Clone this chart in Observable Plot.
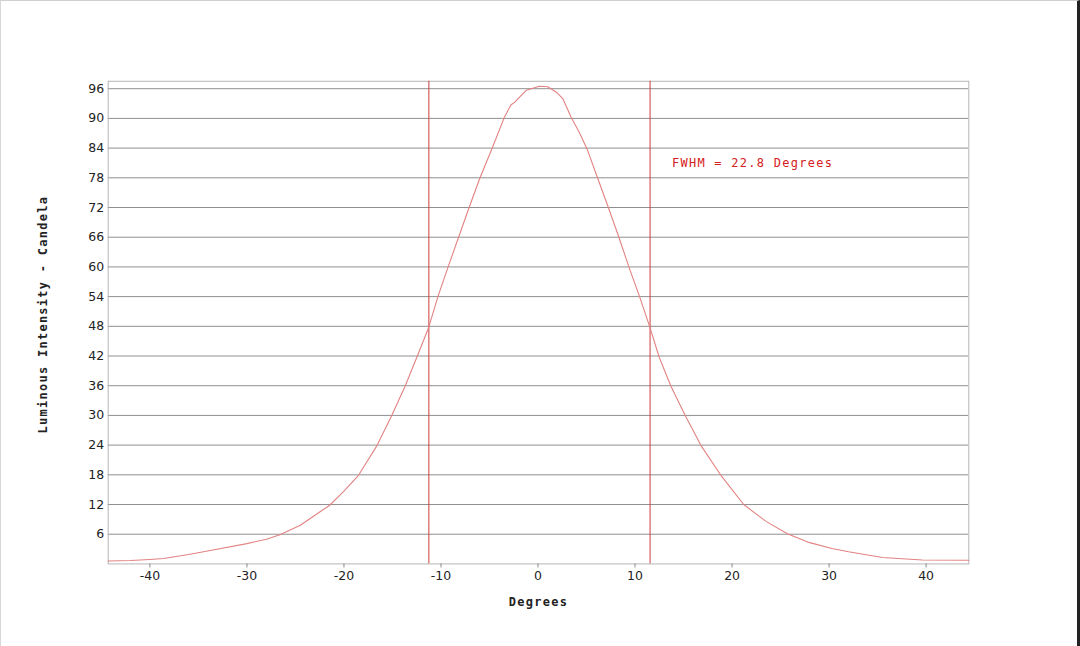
<!DOCTYPE html>
<html>
<head>
<meta charset="utf-8">
<script src="https://cdn.jsdelivr.net/npm/d3@7"></script>
<script src="https://cdn.jsdelivr.net/npm/@observablehq/plot@0.6"></script>
<style>
  html, body { margin: 0; padding: 0; background: #fff; }
  #wrap { position: relative; width: 1080px; height: 646px; box-sizing: border-box;
          border-top: 1px solid #cfcfcf; border-left: 1px solid #d8d8d8; border-right: 3px solid #222; overflow: hidden; }
  #chart { position: absolute; left: -1px; top: -1px; }
</style>
</head>
<body>
<div id="wrap"><div id="chart"></div></div>
<script>
// Measured luminous intensity curve (degrees vs candela)
const degrees = [-44.3, -42, -40, -38.6, -36, -33.5, -30, -28, -26.6, -24.5, -22.5, -21.5, -20.1, -18.5, -16.6, -15.1, -13.7, -12.5, -11.3, -10.3, -9.3, -8.15, -7.1, -6.0, -4.8, -3.45, -2.8, -2.4, -1.2, 0.15, 1.0, 1.9, 2.55, 3.4, 4.3, 5.1, 6.15, 7.25, 8.3, 9.4, 10.45, 11.5, 12.5, 13.7, 15.2, 16.8, 18.85, 21.2, 23.5, 25.7, 28, 30.3, 32, 35.5, 39.6, 44.4];
const candela = [0.6, 0.7, 0.9, 1.1, 1.9, 2.8, 4.1, 5.0, 5.9, 7.8, 10.5, 11.8, 14.5, 17.9, 23.9, 29.9, 35.9, 41.7, 47.6, 54.1, 59.8, 66.2, 72.0, 77.9, 83.6, 90.3, 92.7, 93.3, 95.7, 96.5, 96.4, 95.3, 94.0, 90.3, 87.0, 83.6, 77.9, 72.0, 66.2, 59.8, 54.1, 48.0, 41.7, 35.9, 29.9, 23.9, 17.9, 12.0, 8.6, 6.1, 4.3, 3.1, 2.45, 1.3, 0.8, 0.75];
const fwhmLines = [-11.25, 11.55];
const xTicks = [-40, -30, -20, -10, 0, 10, 20, 30, 40];
const yTicks = [6, 12, 18, 24, 30, 36, 42, 48, 54, 60, 66, 72, 78, 84, 90, 96];
const annotation = [{x: 13.8, y: 81, label: "FWHM = 22.8 Degrees"}];
const xLabel = "Degrees";
const yLabel = "Luminous Intensity - Candela";

const data = degrees.map((d, i) => ({deg: d, cd: candela[i]}));

const chart = Plot.plot({
  width: 1080,
  height: 646,
  marginLeft: 108,
  marginRight: 109,
  marginTop: 81,
  marginBottom: 81,
  style: {fontFamily: "DejaVu Sans", fontSize: "12px", color: "#222", background: "transparent"},
  x: {domain: [-44.3, 44.4]},
  y: {domain: [0, 97.5]},
  marks: [
    Plot.gridY(yTicks, {stroke: "#8f8f8f", strokeOpacity: 1}),
    Plot.frame({stroke: "#b5b5b5"}),
    Plot.axisX(xTicks, {tickSize: 4, tickPadding: 3, stroke: "#888", fill: "#222", fontSize: 12.5,
      tickFormat: d => String(d), label: null}),
    Plot.axisY(yTicks, {tickSize: 0, tickPadding: 4, fill: "#222", fontSize: 12.5,
      tickFormat: d => String(d), label: null}),
    Plot.text([xLabel], {frameAnchor: "bottom", dy: 42, text: d => d, fontFamily: "DejaVu Sans Mono",
      fontSize: 12, fill: "#222", fontWeight: "bold"}),
    Plot.text([yLabel], {frameAnchor: "left", dx: -65, dy: -8, rotate: -90, textAnchor: "middle", text: d => d,
      fontFamily: "DejaVu Sans Mono", fontSize: 12, fill: "#222", fontWeight: "bold"}),
    Plot.ruleX(fwhmLines, {stroke: "#cc3c3c", strokeWidth: 1}),
    Plot.line(data, {x: "deg", y: "cd", stroke: "#e28282", strokeWidth: 1.1}),
    Plot.text(annotation, {x: "x", y: "y", text: "label", textAnchor: "start", fill: "#d42020",
      fontFamily: "DejaVu Sans Mono", fontSize: 12})
  ]
});

d3.select(chart).selectAll("text").filter(function() {
  const t = this.textContent;
  return t === xLabel || t === yLabel || t === annotation[0].label;
}).style("letter-spacing", "1.3px");

document.getElementById("chart").appendChild(chart);
</script>
</body>
</html>
